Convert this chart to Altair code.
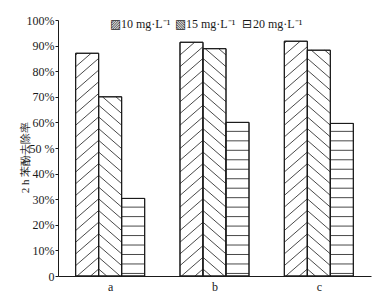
import altair as alt
import pandas as pd

# ---- data ----
groups = ["a", "b", "c"]
series = ["10 mg·L⁻¹", "15 mg·L⁻¹", "20 mg·L⁻¹"]
v10 = [87.0, 91.3, 91.7]
v15 = [70.0, 88.8, 88.2]
v20 = [30.3, 60.0, 59.6]
y_ticks = list(range(0, 101, 10))
y_title = "2 h 苯酚去除率"

# ---- layout / style constants ----
W, H = 313, 256
BAR_W = 0.2205          # bar width in group units (one group = 1 unit)
PX_X = W / 3.0          # pixels per x unit
PX_Y = H / 100.0        # pixels per %
DIAG_SP = 11.7          # vertical spacing of diagonal hatch (px)
DIAG_RISE = 20.0 / 23.0 # slope of diagonal hatch (px/px)
DIAG_PHASE = 7.0
HOR_SP = 3.7            # spacing of horizontal hatch (%)
HOR_START = 1.0
FONT = "Liberation Serif"
INK = "#1a1a1a"

values = [v10, v15, v20]
bars = []
for g, gname in enumerate(groups):
    start = g + 0.5 - 1.5 * BAR_W
    for i, s in enumerate(series):
        xl = start + i * BAR_W
        bars.append({"group": gname, "series": s, "xl": xl, "xr": xl + BAR_W,
                     "v": values[i][g], "idx": i})
bars_df = pd.DataFrame(bars)


def clip_line(p, d, xmin, xmax, ymin, ymax):
    t0, t1 = -1e9, 1e9
    for pi, di, lo, hi in ((p[0], d[0], xmin, xmax), (p[1], d[1], ymin, ymax)):
        if abs(di) < 1e-12:
            if pi < lo or pi > hi:
                return None
        else:
            a, b = (lo - pi) / di, (hi - pi) / di
            if a > b:
                a, b = b, a
            t0, t1 = max(t0, a), min(t1, b)
    if t1 - t0 < 1e-6:
        return None
    return (p[0] + t0 * d[0], p[1] + t0 * d[1], p[0] + t1 * d[0], p[1] + t1 * d[1])


segs = []
for b in bars:
    X0, X1 = b["xl"] * PX_X, b["xr"] * PX_X
    Y1 = b["v"] * PX_Y
    if b["idx"] == 2:
        y = HOR_START
        while y < b["v"] - 0.6:
            segs.append({"x": b["xl"], "x2": b["xr"], "y": y, "y2": y})
            y += HOR_SP
        continue
    if b["idx"] == 0:
        anchor_x, d = X1, (1.0, DIAG_RISE)
    else:
        anchor_x, d = X0, (1.0, -DIAG_RISE)
    for k in range(-10, 40):
        py = DIAG_PHASE + k * DIAG_SP
        r = clip_line((anchor_x, py), d, X0, X1, 0.0, Y1)
        if r:
            segs.append({"x": r[0] / PX_X, "x2": r[2] / PX_X,
                         "y": r[1] / PX_Y, "y2": r[3] / PX_Y})
segs_df = pd.DataFrame(segs)

xscale = alt.Scale(domain=[0, 3], nice=False, zero=False)
yscale = alt.Scale(domain=[0, 100], nice=False)

label_expr_x = "[" + ",".join("'%s'" % g for g in groups) + "][floor(datum.value)]"
label_expr_y = "datum.value == 0 ? '0' : (datum.value == 50 ? '50 %' : datum.value + '%')"

x_axis = alt.Axis(values=[0.5, 1.5, 2.5], labelExpr=label_expr_x, title=None,
                  ticks=False, grid=False, labelPadding=5, domainColor=INK,
                  labelColor=INK, labelFont=FONT, labelFontSize=12, labelAngle=0)
y_axis = alt.Axis(values=y_ticks, labelExpr=label_expr_y, title=y_title,
                  grid=False, tickSize=3, tickColor=INK, domainColor=INK,
                  labelColor=INK, labelFont=FONT, labelFontSize=12,
                  labelOverlap=False, labelPadding=1,
                  titleFont=FONT, titleFontSize=11,
                  titleFontWeight="normal", titleColor=INK,
                  titleX=-28, titleY=137, titleAngle=-90,
                  titleAlign="center", titleBaseline="bottom")

rects = alt.Chart(bars_df).mark_rect(fill="white", stroke=INK, strokeWidth=1).encode(
    x=alt.X("xl:Q", scale=xscale, axis=x_axis),
    x2="xr:Q",
    y=alt.Y("v:Q", scale=yscale, axis=y_axis),
    y2=alt.datum(0),
)

hatch = alt.Chart(segs_df).mark_rule(color=INK, strokeWidth=0.8).encode(
    x=alt.X("x:Q", scale=xscale, axis=x_axis), x2="x2:Q",
    y=alt.Y("y:Q", scale=yscale, axis=y_axis), y2="y2:Q",
)

outline = alt.Chart(bars_df).mark_rect(fill=None, stroke=INK, strokeWidth=1).encode(
    x=alt.X("xl:Q", scale=xscale, axis=x_axis), x2="xr:Q",
    y=alt.Y("v:Q", scale=yscale, axis=y_axis), y2=alt.datum(0),
)

glyphs = ["▨", "▧", "⊟"]
leg_x = [52, 117, 184]
legend_layers = []
for gl, s, lx in zip(glyphs, series, leg_x):
    legend_layers.append(
        alt.Chart(pd.DataFrame({"t": [gl]})).mark_text(
            align="left", baseline="middle", font="DejaVu Sans", fontSize=12, color=INK
        ).encode(x=alt.value(lx), y=alt.value(4), text="t:N"))
    legend_layers.append(
        alt.Chart(pd.DataFrame({"t": [s]})).mark_text(
            align="left", baseline="middle", font=FONT, fontSize=12, color=INK
        ).encode(x=alt.value(lx + 11), y=alt.value(4), text="t:N"))

chart = alt.layer(rects, hatch, outline, *legend_layers).properties(
    width=W, height=H,
    autosize=alt.AutoSizeParams(type="none"),
    padding={"left": 50, "top": 12, "right": 4, "bottom": 23},
    background="white",
).configure_view(stroke=None)

chart.save("out.html", embed_options={"renderer": "svg", "actions": False})
